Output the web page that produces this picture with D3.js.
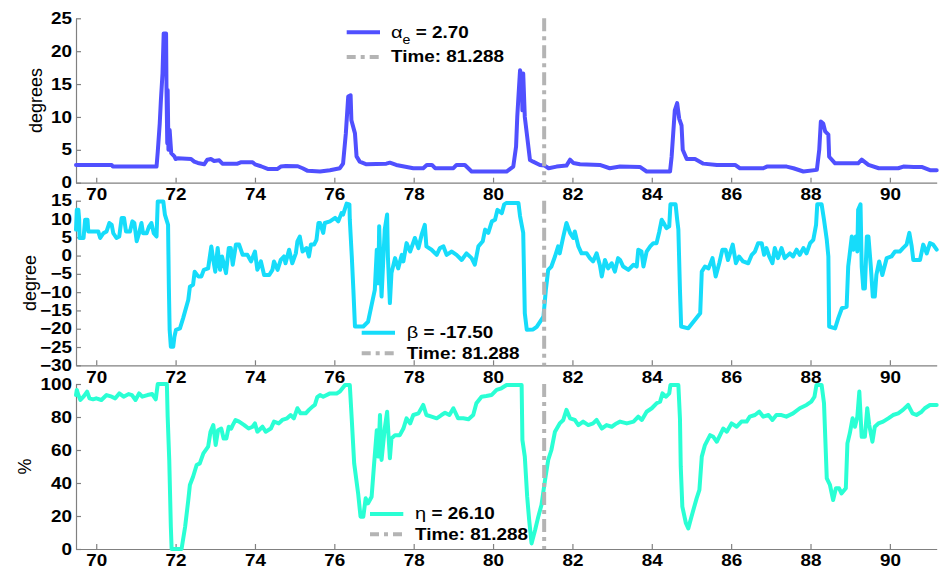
<!DOCTYPE html>
<html><head><meta charset="utf-8">
<script src="https://cdn.jsdelivr.net/npm/d3@7"></script>
<style>
body{margin:0;background:#fff;}
svg{display:block;font-family:'Liberation Sans',Arial,sans-serif;}
</style></head><body>
<svg id="chart" width="940" height="571"></svg>
<script>
const xTicks = [70,72,74,76,78,80,82,84,86,88,90];
const alphaTicks = [0,5,10,15,20,25];
const betaTicks = [-30,-25,-20,-15,-10,-5,0,5,10,15];
const etaTicks = [0,20,40,60,80,100];
const cursorTime = 81.288;
const alphaLabel = "2.70", betaLabel = "-17.50", etaLabel = "26.10";

const alphaData = [[69.49,2.7],[70.39,2.7],[70.42,2.45],[71.52,2.45],[71.55,4.7],[71.6,9.0],[71.63,12.6],[71.67,16.6],[71.7,22.7],[71.76,22.7],[71.77,14.6],[71.79,6.0],[71.8,14.1],[71.82,5.0],[71.85,8.0],[71.89,4.5],[71.97,4.0],[72.0,3.6],[72.05,3.7],[72.39,3.6],[72.47,3.2],[72.56,3.0],[72.72,2.8],[72.8,3.5],[72.89,3.6],[72.97,3.3],[73.1,3.4],[73.18,2.9],[73.56,2.9],[73.64,3.1],[73.94,3.1],[74.0,2.8],[74.15,2.5],[74.32,2.1],[74.57,2.1],[74.65,2.45],[74.78,2.55],[75.08,2.5],[75.2,2.2],[75.33,1.8],[75.64,1.7],[75.89,1.9],[76.14,2.2],[76.22,2.9],[76.29,7.5],[76.35,13.1],[76.41,13.3],[76.43,9.5],[76.52,7.5],[76.56,4.0],[76.64,3.2],[76.81,2.8],[77.31,2.9],[77.4,3.05],[77.56,2.7],[77.99,2.2],[78.24,2.2],[78.33,2.7],[78.46,2.7],[78.54,2.2],[79.0,2.2],[79.08,2.7],[79.29,2.7],[79.46,1.7],[80.34,1.7],[80.51,2.45],[80.58,5.5],[80.61,10],[80.64,13.1],[80.68,17.1],[80.72,16.1],[80.74,11],[80.76,16.6],[80.8,10],[80.85,7.5],[80.93,3.45],[81.01,3.2],[81.18,2.7],[81.3,2.6],[81.4,2.2],[81.6,2.45],[81.85,2.6],[81.94,3.5],[82.02,3.0],[82.19,2.8],[82.69,2.7],[82.94,2.2],[83.2,2.45],[83.7,2.4],[83.87,1.7],[84.46,1.7],[84.5,3.95],[84.54,7.5],[84.58,11],[84.64,12.1],[84.69,9.75],[84.75,8.7],[84.78,5.0],[84.88,3.6],[85.09,3.6],[85.3,2.9],[85.64,2.7],[86.1,2.7],[86.22,2.2],[86.81,2.2],[86.9,2.45],[87.4,2.45],[87.57,2.2],[87.82,1.7],[88.16,1.95],[88.22,5],[88.26,9.3],[88.32,9.0],[88.37,7.8],[88.45,7.3],[88.47,3.95],[88.62,2.95],[89.2,2.95],[89.29,3.5],[89.46,2.7],[89.72,2.2],[90.21,2.2],[90.34,2.45],[90.6,2.4],[90.8,2.4],[91.01,1.9],[91.18,1.9]];

const betaData = [[69.49,7.1],[69.51,12.5],[69.55,12.5],[69.57,9.8],[69.58,4.8],[69.68,4.8],[69.72,9.8],[69.78,9.8],[69.8,6.6],[70.05,6.6],[70.1,4.8],[70.18,6.1],[70.26,6.6],[70.33,8.9],[70.39,8.4],[70.43,6.1],[70.51,4.8],[70.58,5.2],[70.64,10.3],[70.7,10.3],[70.75,6.6],[70.85,6.6],[70.91,9.35],[70.96,8.9],[71.02,3.9],[71.08,6.1],[71.14,8.9],[71.18,6.1],[71.27,6.1],[71.33,7.9],[71.39,8.9],[71.45,6.1],[71.52,5.2],[71.55,14.8],[71.69,14.8],[71.73,11.2],[71.81,8.4],[71.83,-8.5],[71.85,-20.3],[71.88,-24.9],[71.94,-24.9],[71.97,-22.2],[72.01,-20.3],[72.11,-19.9],[72.19,-17.1],[72.32,-12.1],[72.36,-8.5],[72.44,-8.0],[72.48,-4.4],[72.57,-5.7],[72.65,-5.7],[72.71,-3.9],[72.82,-3.5],[72.9,2.5],[72.95,-1.2],[73.0,-4.4],[73.06,2.05],[73.12,-3.9],[73.17,-0.25],[73.27,-4.8],[73.34,2.05],[73.39,2.05],[73.44,-2.5],[73.52,3],[73.6,3],[73.69,0.2],[73.81,0.2],[73.9,-1.6],[74.0,1.1],[74.06,-3.9],[74.15,-1.6],[74.23,-5.3],[74.36,-5.3],[74.44,-3.9],[74.48,-1.6],[74.57,-3.9],[74.65,-1.2],[74.73,-0.25],[74.77,-2.1],[74.86,1.6],[74.94,-2.1],[75.03,0.6],[75.07,3.9],[75.13,5.2],[75.2,1.1],[75.3,2.05],[75.36,-0.25],[75.41,3],[75.49,3],[75.55,4.3],[75.6,8.9],[75.64,8.9],[75.72,6.2],[75.76,8.9],[75.89,9.35],[76.02,10.3],[76.1,9.35],[76.18,11.6],[76.22,11.2],[76.31,14.2],[76.38,14],[76.39,9.8],[76.44,-0.25],[76.48,-9.4],[76.52,-19.4],[76.73,-19.4],[76.85,-18.1],[76.94,-13.5],[77.02,-9.4],[77.07,1.6],[77.11,-7.6],[77.13,8.0],[77.19,-11.2],[77.23,-2.1],[77.27,7.1],[77.33,11.2],[77.35,-0.25],[77.4,-13],[77.44,-4.8],[77.53,-0.7],[77.61,-3.5],[77.7,0.2],[77.74,-1.6],[77.82,3.4],[77.91,1.1],[78.03,4.8],[78.12,2.05],[78.2,5.7],[78.28,8.4],[78.32,2.5],[78.45,1.6],[78.58,0.2],[78.66,2.05],[78.75,2.5],[78.83,0.2],[78.96,1.1],[79.08,0.2],[79.21,-1.2],[79.33,0.6],[79.46,-0.7],[79.54,-2.5],[79.63,2.5],[79.74,3.9],[79.8,7.1],[79.88,6.2],[79.97,9.35],[80.05,9.8],[80.11,12.5],[80.22,11.6],[80.28,14],[80.34,14.4],[80.64,14.4],[80.68,10.8],[80.76,6.2],[80.8,-15.8],[80.85,-20.3],[81.01,-20.2],[81.1,-19.5],[81.27,-16.7],[81.33,-9.4],[81.39,-3.9],[81.47,-3],[81.56,-0.25],[81.64,2.5],[81.68,0.6],[81.77,5.2],[81.85,8.9],[81.94,6.2],[82.02,4.8],[82.06,6.6],[82.15,2.5],[82.23,0.6],[82.36,0.6],[82.44,-0.7],[82.52,-1.6],[82.61,0.6],[82.69,-2.5],[82.74,-5.7],[82.82,-1.2],[82.9,-3.5],[82.99,-2.1],[83.07,-4.4],[83.15,-0.7],[83.2,-1.2],[83.28,-3],[83.41,-3.9],[83.54,-2.5],[83.62,-3],[83.66,1.6],[83.74,1.1],[83.79,-3],[83.87,1.1],[83.96,2.5],[84.04,3.4],[84.12,3.4],[84.19,6.6],[84.25,9.8],[84.3,8.9],[84.37,7.5],[84.44,8.0],[84.47,14],[84.6,14],[84.64,9.8],[84.67,7.1],[84.71,-9.4],[84.74,-19.4],[84.92,-19.9],[85.05,-18.1],[85.22,-15.8],[85.26,-4.4],[85.34,-3],[85.43,-3.5],[85.53,-0.7],[85.61,-5.7],[85.7,-2.1],[85.78,1.6],[85.86,1.6],[85.92,-1.2],[86.04,3],[86.12,-2.1],[86.2,-0.25],[86.3,-1.6],[86.43,-2.1],[86.52,0.2],[86.6,1.1],[86.68,3.4],[86.77,3.4],[86.83,0.2],[86.89,2.05],[86.96,-0.25],[87.04,-2.1],[87.1,2.05],[87.18,-0.7],[87.27,2.05],[87.35,-0.7],[87.48,0.6],[87.56,-0.25],[87.65,1.6],[87.73,0.2],[87.82,2.05],[87.9,0.6],[87.99,3.4],[88.07,4.3],[88.14,8.4],[88.17,14],[88.28,14],[88.34,9.8],[88.41,4.3],[88.45,-0.25],[88.47,-19.4],[88.62,-19.9],[88.7,-17.1],[88.79,-14.4],[88.91,-14],[88.95,-3],[89.04,5.2],[89.08,1.6],[89.14,5.2],[89.18,1.1],[89.2,12.5],[89.26,14],[89.29,-3],[89.33,-9],[89.37,-9],[89.42,5.2],[89.46,5.2],[89.52,-3],[89.57,-11.2],[89.62,-11.2],[89.66,-5.3],[89.73,-1.6],[89.81,-5.3],[89.92,-0.7],[90.04,-0.25],[90.13,1.1],[90.25,1.1],[90.33,2.05],[90.42,3],[90.49,6.2],[90.55,2.5],[90.59,-1.2],[90.76,-1.2],[90.84,3],[90.93,0.6],[91.01,3.4],[91.09,3],[91.18,1.6]];

const etaData = [[69.49,93.3],[69.51,96.4],[69.55,93.3],[69.6,90.3],[69.69,92.7],[69.77,95.4],[69.83,91.3],[69.92,90.7],[70.0,91.3],[70.13,90.3],[70.26,93.3],[70.39,92.3],[70.48,91.3],[70.58,94.3],[70.69,92.3],[70.82,93.9],[70.9,93.3],[70.99,90.3],[71.08,94.3],[71.16,92.3],[71.29,93.3],[71.41,93.9],[71.5,90.7],[71.55,100],[71.78,100],[71.8,80.2],[71.84,53.9],[71.88,13.5],[71.9,0],[72.15,0],[72.24,13.5],[72.32,29.7],[72.36,38.8],[72.44,43.8],[72.53,50.9],[72.61,51.9],[72.7,58],[72.82,62],[72.88,71.1],[72.95,75.1],[73.01,63],[73.07,72],[73.15,73],[73.21,67],[73.28,67],[73.34,74.1],[73.4,73],[73.44,75.1],[73.51,78.2],[73.6,77.2],[73.73,75.1],[73.84,73],[73.94,74.1],[74.0,76.1],[74.06,71.1],[74.19,74.1],[74.27,71.1],[74.4,73],[74.48,77.2],[74.6,76.1],[74.69,78.2],[74.81,79.2],[74.9,81.2],[74.98,79.2],[75.07,85.3],[75.15,82.2],[75.28,82.2],[75.36,84.3],[75.45,86.3],[75.51,87.3],[75.57,92],[75.64,93.3],[75.72,92.3],[75.89,94.3],[76.06,94.3],[76.14,95.4],[76.27,99.4],[76.39,99.4],[76.44,78.2],[76.5,51.9],[76.6,33.7],[76.66,19.6],[76.73,19.6],[76.79,30.7],[76.85,27.7],[76.94,31.7],[77.0,50.9],[77.07,72],[77.11,56],[77.15,81.2],[77.19,54],[77.27,73],[77.33,83.2],[77.4,55],[77.44,67],[77.53,69],[77.65,69],[77.74,73],[77.82,79.2],[77.91,76.1],[77.99,81.2],[78.12,82.2],[78.24,87.3],[78.32,81.2],[78.45,80.2],[78.58,79.2],[78.7,81.2],[78.79,82.6],[78.9,81.2],[79.0,85.3],[79.12,79.2],[79.25,79.2],[79.38,78.6],[79.5,81.2],[79.58,88.3],[79.71,92.3],[79.83,92.7],[79.96,93.3],[80.09,96.4],[80.21,97.4],[80.34,99.4],[80.72,99.4],[80.74,66],[80.8,56],[80.86,31.7],[80.91,17.6],[80.97,3.4],[81.06,11.5],[81.14,19.6],[81.22,26.7],[81.31,41.8],[81.39,54],[81.47,60],[81.56,71.1],[81.68,76.1],[81.77,78.2],[81.85,84.3],[81.94,79.2],[82.06,78.2],[82.15,75.1],[82.27,77.2],[82.4,75.1],[82.52,76.1],[82.61,78.2],[82.74,73],[82.86,75.1],[82.99,74.1],[83.11,76.1],[83.2,77.2],[83.37,76.1],[83.54,77.2],[83.66,80.2],[83.75,78.2],[83.87,83.2],[84.0,85.3],[84.12,88.3],[84.21,89.3],[84.27,94.3],[84.36,92.3],[84.44,94.3],[84.47,99.4],[84.67,99.4],[84.71,79.2],[84.73,49.9],[84.77,25.7],[84.86,15.6],[84.92,12.5],[85.0,19.6],[85.13,30.7],[85.2,35.8],[85.26,56],[85.34,63],[85.47,69],[85.55,68],[85.64,65],[85.72,69],[85.8,73],[85.89,71.1],[86.01,76.1],[86.14,74.1],[86.26,77.2],[86.39,77.2],[86.47,80.2],[86.6,81.2],[86.71,83.2],[86.81,80.2],[86.94,81.2],[87.04,78.2],[87.14,81.2],[87.27,81.2],[87.39,80.2],[87.56,82.2],[87.73,85.3],[87.9,87.3],[88.02,89.3],[88.1,92.3],[88.15,99.4],[88.28,99.4],[88.34,88.3],[88.41,42.8],[88.49,38.8],[88.57,29.7],[88.64,36.8],[88.72,36.8],[88.78,33.7],[88.89,36.8],[88.93,64],[88.99,70.1],[89.06,79.2],[89.12,74.1],[89.18,80.2],[89.23,95.4],[89.29,68],[89.37,68],[89.43,85.3],[89.48,75.1],[89.56,65],[89.62,74.1],[89.71,76.1],[89.83,77.2],[89.96,79.2],[90.08,81.2],[90.21,82.2],[90.33,84.3],[90.46,87.3],[90.57,82.2],[90.67,81.2],[90.8,83.2],[90.88,85.3],[91.01,87.3],[91.18,87.3]];

const K = 1.18; // horizontal text stretch
const svg = d3.select('#chart');
svg.append('rect').attr('width',940).attr('height',571).attr('fill','#fff');
const x = d3.scaleLinear().domain([69.49, 91.18]).range([76, 936.7]);
const axisColor = '#808080';
const cursorColor = '#b4b4b4';
const dash = '13,5,4,5';

function stretch(sel){
  sel.each(function(){
    const t = d3.select(this);
    const x0 = +t.attr('x') || 0;
    t.attr('x', x0 / K).attr('transform', `scale(${K},1)`);
  });
}

const panels = [
  {data: alphaData, domain:[0,25], ticks: alphaTicks, range:[182.7,18.3], color:'#5050ff',
   ylabel:'degrees', ylx:36, sym:'α', sub:'e', val:alphaLabel, lx:346.7, ly:32.3, tx:391, ly2:57},
  {data: betaData, domain:[-30,15], ticks: betaTicks, range:[365.3,200.7], color:'#16dcfa',
   ylabel:'degree', ylx:30, sym:'β', sub:null, val:betaLabel, lx:361.7, ly:332.7, tx:406.7, ly2:353.3},
  {data: etaData, domain:[0,100], ticks: etaTicks, range:[549,384], color:'#2affd4',
   ylabel:'%', ylx:25, sym:'η', sub:null, val:etaLabel, lx:370, ly:514, tx:415, ly2:534.3}
];

panels.forEach(p => {
  const y = d3.scaleLinear().domain(p.domain).range(p.range);
  const g = svg.append('g');
  const xa = g.append('g').attr('transform', `translate(0,${p.range[0]})`)
    .call(d3.axisBottom(x).tickValues(xTicks).tickSizeInner(-5).tickSizeOuter(0).tickPadding(6).tickFormat(d3.format('d')));
  const ya = g.append('g').attr('transform', `translate(${x.range()[0]},0)`)
    .call(d3.axisLeft(y).tickValues(p.ticks).tickSizeInner(-5).tickSizeOuter(0).tickPadding(4).tickFormat(d3.format('d')));
  [xa, ya].forEach(a => {
    a.select('.domain').attr('stroke', axisColor).attr('stroke-width',1.2);
    a.selectAll('.tick line').attr('stroke', axisColor).attr('stroke-width',1.2);
    a.selectAll('.tick text').attr('fill','#000').attr('font-size',16).attr('font-weight','bold')
      .attr('font-family',"'Liberation Sans',Arial,sans-serif");
    stretch(a.selectAll('.tick text'));
  });
  const cy = (p.range[0] + p.range[1]) / 2;
  g.append('text').attr('transform', `translate(${p.ylx},${cy}) rotate(-90)`)
    .attr('text-anchor','middle').attr('dy','0.35em').attr('font-size',18).attr('fill','#000')
    .text(p.ylabel);
  const line = d3.line().x(d => x(d[0])).y(d => y(d[1]));
  g.append('path').datum(p.data).attr('d', line).attr('fill','none')
    .attr('stroke', p.color).attr('stroke-width',4).attr('stroke-linejoin','round').attr('stroke-linecap','round');
  g.append('line').attr('x1', x(cursorTime)).attr('x2', x(cursorTime))
    .attr('y1', p.range[1]).attr('y2', p.range[0])
    .attr('stroke', cursorColor).attr('stroke-width',4).attr('stroke-dasharray', dash);
  g.append('line').attr('x1', p.lx).attr('x2', p.lx+33.3).attr('y1', p.ly).attr('y2', p.ly)
    .attr('stroke', p.color).attr('stroke-width',4);
  g.append('line').attr('x1', p.lx).attr('x2', p.lx+33.3).attr('y1', p.ly2).attr('y2', p.ly2)
    .attr('stroke', cursorColor).attr('stroke-width',4).attr('stroke-dasharray','9,5,4,5');
  const t1 = g.append('text').attr('x', p.tx).attr('y', p.ly+5.5).attr('font-size',16).attr('fill','#000');
  t1.append('tspan').text(p.sym).attr('font-size',17);
  if (p.sub) {
    t1.append('tspan').text(p.sub).attr('font-size',12).attr('dy',6);
    t1.append('tspan').text(' = ' + p.val).attr('font-weight','bold').attr('dy',-6);
  } else {
    t1.append('tspan').text(' = ' + p.val).attr('font-weight','bold');
  }
  const t2 = g.append('text').attr('x', p.tx).attr('y', p.ly2+5.5).attr('font-size',16)
    .attr('font-weight','bold').attr('fill','#000').text('Time: ' + cursorTime.toFixed(3));
  stretch(t1); stretch(t2);
});
</script>
</body></html>
